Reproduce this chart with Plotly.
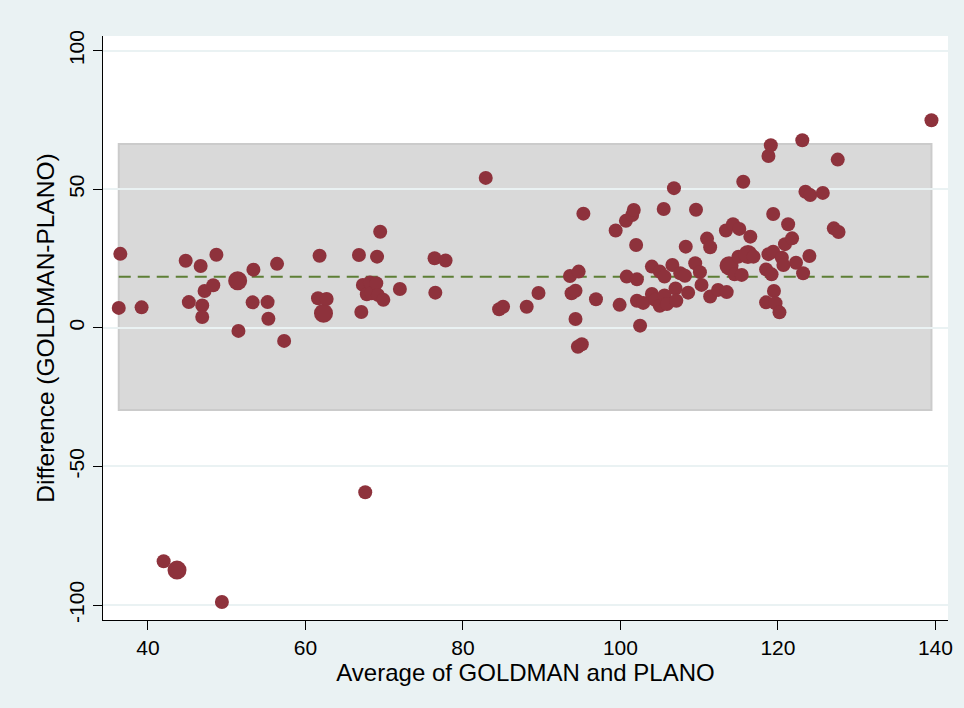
import plotly.graph_objects as go

# Average of GOLDMAN and PLANO (x) and Difference GOLDMAN-PLANO (y)
avg = [36.5, 36.3, 39.2, 42.0, 43.7, 44.8, 45.2, 46.7, 46.9, 46.9, 47.2, 48.3, 48.7, 49.4,
       51.4, 51.5, 53.3, 53.4, 55.2, 55.3, 56.4, 57.3, 61.6, 61.8, 62.3, 62.7, 66.8, 67.1,
       67.3, 67.6, 67.8, 68.2, 68.4, 69.0, 69.1, 69.2, 69.5, 69.9, 72.0, 76.4, 76.5, 77.8,
       82.9, 84.6, 85.1, 88.1, 89.6, 93.6, 93.8, 94.3, 94.3, 94.6, 94.7, 95.1, 95.3, 96.9,
       99.4, 99.9, 100.7, 100.8, 101.5, 101.7, 102.0, 102.1, 102.1, 102.5, 102.9, 104.0,
       104.0, 104.4, 105.0, 105.0, 105.5, 105.6, 105.6, 105.9, 106.6, 106.8, 107.0, 107.1,
       107.6, 108.2, 108.3, 108.6, 109.5, 109.6, 110.1, 110.3, 111.0, 111.4, 111.4, 112.4,
       113.4, 113.5, 113.8, 114.3, 114.5, 115.1, 115.0, 115.4, 115.6, 116.2, 116.5, 116.9,
       118.5, 118.5, 118.8, 118.8, 119.1, 119.2, 119.4, 119.4, 119.5, 119.7, 120.2, 120.5,
       120.7, 120.9, 121.3, 121.8, 122.3, 123.1, 123.2, 123.5, 124.0, 124.1, 125.7, 127.1,
       127.6, 127.7, 139.5]
diff = [26.7, 7.2, 7.4, -84.2, -87.4, 24.2, 9.3, 22.3, 8.1, 3.9, 13.3, 15.4, 26.4, -98.9,
        17.0, -1.1, 9.2, 21.0, 9.3, 3.3, 23.1, -4.7, 10.7, 26.0, 5.3, 10.4, 26.3, 5.7,
        15.5, -59.3, 12.1, 16.4, 12.5, 16.1, 25.7, 11.9, 34.7, 10.1, 14.0, 25.1, 12.7, 24.3,
        54.1, 6.7, 7.6, 7.6, 12.6, 18.7, 12.5, 13.4, 3.2, -6.8, 20.3, -5.9, 41.2, 10.3,
        35.1, 8.3, 38.6, 18.5, 40.7, 42.5, 29.9, 17.5, 9.8, 0.8, 9.0, 12.2,
        22.1, 10.1, 20.3, 8.0, 42.9, 18.5, 11.7, 8.6, 22.7, 50.4, 14.2, 9.8,
        19.7, 18.8, 29.3, 12.7, 23.3, 42.6, 20.1, 15.5, 32.2, 29.1, 11.3, 13.7,
        35.1, 12.9, 22.4, 37.4, 19.3, 35.7, 25.7, 19.1, 52.7, 26.5, 32.9, 25.7,
        9.2, 21.1, 26.6, 62.0, 65.9, 19.3, 27.5, 41.1, 13.3, 8.9, 5.6, 25.3,
        22.7, 30.2, 37.4, 32.3, 23.5, 67.7, 19.7, 49.1, 25.9, 47.9, 48.7, 35.9,
        60.7, 34.6, 74.9]
# number of observations at each point (larger marker for duplicates)
count = [1] * len(avg)
for xv, yv in [(43.7, -87.4), (51.4, 17.0), (62.3, 5.3), (113.8, 22.4), (116.2, 26.5)]:
    for i in range(len(avg)):
        if avg[i] == xv and diff[i] == yv:
            count[i] = 2

mean_diff = 18.4
lower_loa = -29.6
upper_loa = 66.3

x_ticks = [40, 60, 80, 100, 120, 140]
y_ticks = [-100, -50, 0, 50, 100]
y_ticklabels = ["-100", "-50", "0", "50", "100"]

sizes = [14 if c == 1 else 19 for c in count]

fig = go.Figure()
fig.add_shape(type="rect", xref="x", yref="y",
              x0=min(avg), x1=max(avg), y0=lower_loa, y1=upper_loa,
              fillcolor="#D9D9D9", line=dict(color="#CBCBCB", width=2), layer="below")
fig.add_trace(go.Scatter(x=[min(avg), max(avg)], y=[mean_diff, mean_diff], mode="lines",
                         line=dict(color="#5E7F36", width=2, dash="12px,7px"),
                         hoverinfo="skip", showlegend=False))
fig.add_trace(go.Scatter(x=avg, y=diff, mode="markers",
                         marker=dict(color="#8E323C", size=sizes, opacity=1,
                                     line=dict(width=0)),
                         showlegend=False))

fam = "Liberation Sans, Arial, sans-serif"
font = dict(family=fam, size=21, color="black")
fig.update_layout(
    width=964, height=708,
    margin=dict(l=103, r=16, t=36, b=88),
    paper_bgcolor="#EAF2F3", plot_bgcolor="white",
    font=font, showlegend=False,
)
fig.update_xaxes(range=[34.3, 141.6], tickvals=x_ticks, ticks="outside", ticklen=9,
                 tickcolor="black", tickwidth=1.3, showline=True, linecolor="black",
                 linewidth=1.3, showgrid=False, zeroline=False,
                 title=dict(text="Average of GOLDMAN and PLANO", standoff=1,
                            font=dict(family=fam, size=24, color="black")),
                 tickfont=font)
fig.update_yaxes(range=[-105.4, 105.3], tickvals=y_ticks, ticktext=y_ticklabels,
                 ticks="outside", ticklen=9,
                 tickcolor="black", tickwidth=1.3, showline=True, linecolor="black",
                 linewidth=1.3, showgrid=True, gridcolor="#EAF2F3", gridwidth=1.5,
                 zeroline=False, tickangle=-90,
                 title=dict(text="Difference (GOLDMAN-PLANO)", standoff=3,
                            font=dict(family=fam, size=24.5, color="black")),
                 tickfont=font)

fig.write_html("out.html")
